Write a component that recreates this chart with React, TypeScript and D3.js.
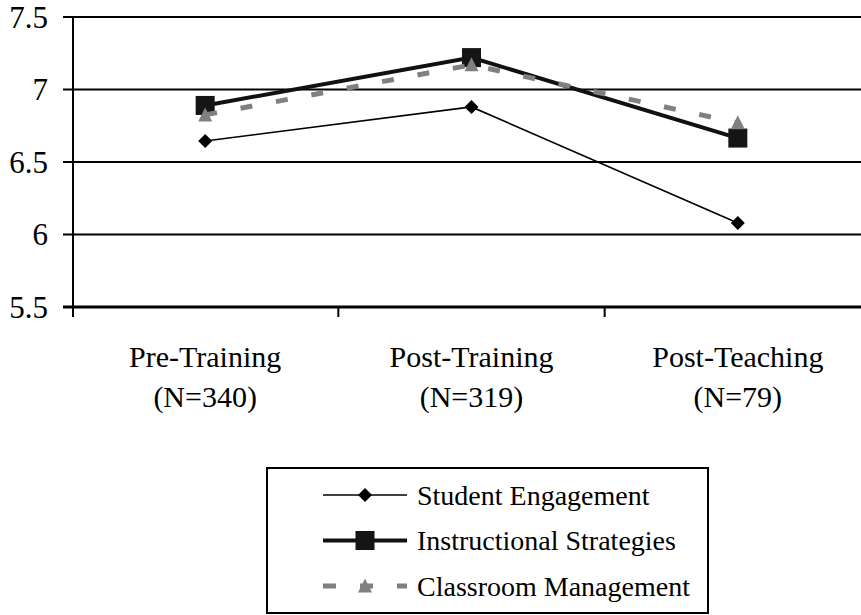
import { useMemo } from "react";
import { line as d3Line, scaleBand, scaleLinear, scalePoint } from "d3";

const categories = ["Pre-Training", "Post-Training", "Post-Teaching"];
const sampleSizes = ["(N=340)", "(N=319)", "(N=79)"];
const yTickValues = [5.5, 6, 6.5, 7, 7.5];

const studentEngagement = [6.645, 6.88, 6.08];
const instructionalStrategies = [6.89, 7.22, 6.665];
const classroomManagement = [6.825, 7.17, 6.77];

const seriesNames = [
  "Student Engagement",
  "Instructional Strategies",
  "Classroom Management",
];

const FONT = "'Liberation Serif', 'Times New Roman', serif";

type Marker = "diamond" | "square" | "triangle";

const MarkerShape = ({ kind, x, y, color }: { kind: Marker; x: number; y: number; color: string }) => {
  if (kind === "diamond") {
    return (
      <path
        d={`M${x},${y - 7}L${x + 7},${y}L${x},${y + 7}L${x - 7},${y}Z`}
        fill={color}
      />
    );
  }
  if (kind === "square") {
    return <rect x={x - 9.5} y={y - 9.5} width={19} height={19} fill={color} />;
  }
  return (
    <path
      d={`M${x},${y - 7.5}L${x + 7},${y + 6.5}L${x - 7},${y + 6.5}Z`}
      fill={color}
    />
  );
};

export default function App() {
  const width = 861;
  const height = 615;
  const margin = { top: 17, left: 73, bottom: 307 };

  const computed = useMemo(() => {
    const band = scaleBand<string>().domain(categories).range([72, 871]);
    const xScale = scalePoint<string>()
      .domain(categories)
      .range([72, 871])
      .padding(0.5);
    const yScale = scaleLinear().domain([5.5, 7.5]).range([margin.bottom, margin.top]);

    const lineGen = d3Line<number>()
      .x((_, i) => xScale(categories[i]) ?? 0)
      .y((d) => yScale(d));

    const series = [
      { name: seriesNames[0], values: studentEngagement, color: "#000000", width: 1.6, dash: undefined, marker: "diamond" as Marker, markerColor: "#000000" },
      { name: seriesNames[1], values: instructionalStrategies, color: "#111111", width: 4, dash: undefined, marker: "square" as Marker, markerColor: "#151515" },
      { name: seriesNames[2], values: classroomManagement, color: "#808080", width: 5, dash: "12 24", marker: "triangle" as Marker, markerColor: "#808080" },
    ];

    const boundaries = [
      ...categories.map((c) => band(c) ?? 0),
      (band(categories[categories.length - 1]) ?? 0) + band.bandwidth(),
    ];

    return { xScale, yScale, lineGen, series, boundaries };
  }, []);

  const { xScale, yScale, lineGen, series, boundaries } = computed;

  return (
    <div style={{ position: "absolute", left: 0, top: 0 }}>
      <svg width={width} height={height} viewBox={`0 0 ${width} ${height}`} style={{ display: "block", background: "#fff" }}>
        {/* gridlines and y ticks */}
        {yTickValues.map((t) => (
          <g key={`y-${t}`}>
            <line
              x1={margin.left - 10}
              x2={width}
              y1={yScale(t)}
              y2={yScale(t)}
              stroke="#000"
              strokeWidth={t === 5.5 ? 3 : 2}
            />
            <text
              x={48}
              y={yScale(t)}
              dy="0.35em"
              textAnchor="end"
              fontFamily={FONT}
              fontSize={31}
              fill="#000"
            >
              {t}
            </text>
          </g>
        ))}
        <line x1={margin.left} x2={margin.left} y1={margin.top} y2={margin.bottom + 10} stroke="#000" strokeWidth={2} />
        {boundaries.slice(1).map((b, i) => (
          <line key={`xt-${i}`} x1={b} x2={b} y1={margin.bottom} y2={margin.bottom + 10} stroke="#000" strokeWidth={2} />
        ))}

        {/* category labels */}
        {categories.map((c, i) => (
          <text key={c} x={xScale(c)} textAnchor="middle" fontFamily={FONT} fontSize={30} fill="#000">
            <tspan x={xScale(c)} y={367}>{c}</tspan>
            <tspan x={xScale(c)} y={407}>{sampleSizes[i]}</tspan>
          </text>
        ))}

        {/* series */}
        {series.map((s) => (
          <g key={s.name}>
            <path d={lineGen(s.values) ?? ""} fill="none" stroke={s.color} strokeWidth={s.width} strokeDasharray={s.dash} />
            {s.values.map((v, i) => (
              <MarkerShape key={i} kind={s.marker} x={xScale(categories[i]) ?? 0} y={yScale(v)} color={s.markerColor} />
            ))}
          </g>
        ))}

        {/* legend */}
        <rect x={267} y={468} width={441} height={145} fill="#fff" stroke="#000" strokeWidth={2} />
        {series.map((s, i) => {
          const ly = 495 + i * 45.5;
          return (
            <g key={`lg-${s.name}`}>
              <line x1={323} x2={407} y1={ly} y2={ly} stroke={s.color} strokeWidth={s.width} strokeDasharray={s.dash ? "13 24" : undefined} />
              <MarkerShape kind={s.marker} x={365} y={ly} color={s.markerColor} />
              <text x={417} y={ly} dy="0.35em" fontFamily={FONT} fontSize={28} fill="#000">
                {s.name}
              </text>
            </g>
          );
        })}
      </svg>
    </div>
  );
}
